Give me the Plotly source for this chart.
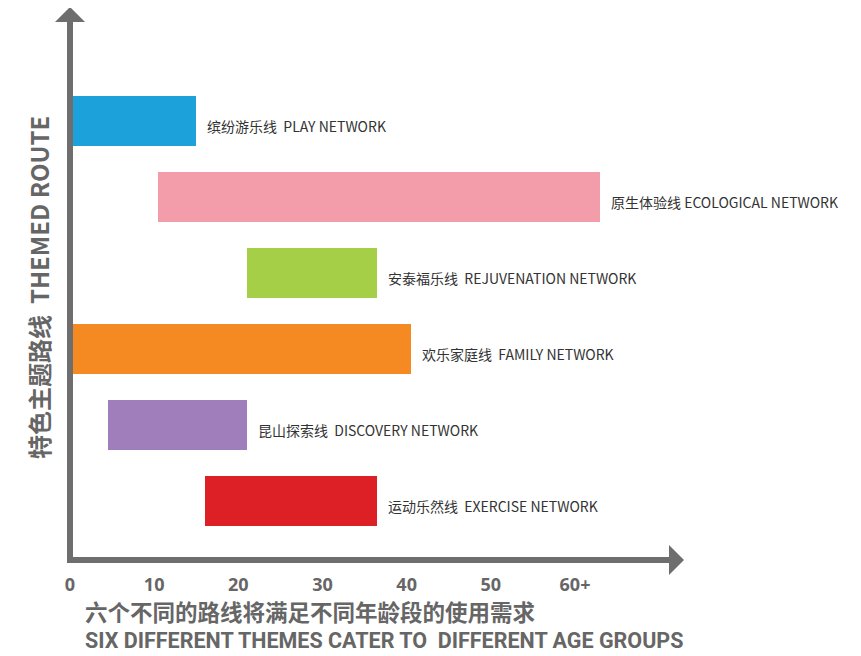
import plotly.graph_objects as go

# ---- data ----
routes_cn = ["缤纷游乐线", "原生体验线", "安泰福乐线", "欢乐家庭线", "昆山探索线", "运动乐然线"]
routes_en = ["PLAY NETWORK", "ECOLOGICAL NETWORK", "REJUVENATION NETWORK",
             "FAMILY NETWORK", "DISCOVERY NETWORK", "EXERCISE NETWORK"]
label_sep = ["  ", " ", "  ", "  ", "  ", "  "]
age_start = [0, 10.5, 21, 0, 4.5, 16]
age_end = [15, 63, 36.5, 40.5, 21, 36.5]
colors = ["#1da1da", "#f39daa", "#a6cf48", "#f68a22", "#a07ebb", "#dd1f26"]
tick_vals = [0, 10, 20, 30, 40, 50, 60]
tick_text = ["0", "10", "20", "30", "40", "50", "60+"]

# ---- layout geometry (page pixels; the page body has an 8px margin) ----
OFF = 8
W, H = 845, 648
PL, PR, PT, PB = 70, 676, 22, 560          # plot area edges in page pixels
ML, MT = PL - OFF, PT - OFF
MR, MB = W - (PR - OFF), H - (PB - OFF)
PW, PH = PR - PL, PB - PT


def px(x):
    return (x - PL) / PW


def py(y):
    return (PB - y) / PH


axis_grey = "#6e6e6e"
text_grey = "#666666"

fig = go.Figure()
lengths = [e - s for s, e in zip(age_start, age_end)]
fig.add_trace(go.Bar(
    y=routes_en, x=lengths, base=age_start, orientation="h",
    marker=dict(color=colors, line=dict(width=0)),
    width=0.66, hoverinfo="skip", showlegend=False,
))

annotations = []
for cn, en, sep, e in zip(routes_cn, routes_en, label_sep, age_end):
    annotations.append(dict(
        x=e, y=en, xref="x", yref="y", text=f"{cn}{sep}{en}",
        showarrow=False, xanchor="left", yanchor="middle", xshift=9, yshift=-5,
        font=dict(family="Noto Sans CJK SC", size=14, color="#333333"),
    ))

annotations += [
    dict(x=px(38), y=py(288), xref="paper", yref="paper",
         text="特色主题路线  THEMED ROUTE", textangle=-90, showarrow=False,
         xanchor="center", yanchor="middle",
         font=dict(family="Noto Sans CJK SC", size=24, color=text_grey, weight="bold")),
    dict(x=px(83), y=py(611), xref="paper", yref="paper",
         text="六个不同的路线将满足不同年龄段的使用需求", showarrow=False,
         xanchor="left", yanchor="middle",
         font=dict(family="Noto Sans CJK SC", size=22.5, color=text_grey, weight="bold")),
    dict(x=px(83), y=py(640), xref="paper", yref="paper",
         text="SIX DIFFERENT THEMES CATER TO  DIFFERENT AGE GROUPS", showarrow=False,
         xanchor="left", yanchor="middle",
         font=dict(family="Roboto, sans-serif", size=21.5,
                   color=text_grey, weight="bold")),
]

shapes = [
    dict(type="line", xref="paper", yref="paper", x0=px(70), x1=px(70), y0=py(563), y1=py(21),
         line=dict(color=axis_grey, width=6)),
    dict(type="line", xref="paper", yref="paper", x0=px(67), x1=px(670), y0=py(560), y1=py(560),
         line=dict(color=axis_grey, width=6)),
    dict(type="path", xref="paper", yref="paper",
         path=f"M {px(55)} {py(22)} L {px(70)} {py(7)} L {px(85)} {py(22)} Z",
         fillcolor=axis_grey, line=dict(width=0)),
    dict(type="path", xref="paper", yref="paper",
         path=f"M {px(669)} {py(545)} L {px(684)} {py(560)} L {px(669)} {py(575)} Z",
         fillcolor=axis_grey, line=dict(width=0)),
]

fig.update_layout(
    width=W, height=H,
    margin=dict(l=ML, r=MR, t=MT, b=MB),
    plot_bgcolor="white", paper_bgcolor="white",
    xaxis=dict(range=[0, 72], tickvals=tick_vals, ticktext=tick_text, showgrid=False,
               zeroline=False, showline=False, ticks="", ticklabelstandoff=12,
               tickfont=dict(family="Open Sans", size=18, color=text_grey, weight="bold")),
    yaxis=dict(categoryorder="array", categoryarray=routes_en[::-1], range=[-0.78, 6.30],
               showticklabels=False, showgrid=False, zeroline=False, showline=False, ticks=""),
    annotations=annotations, shapes=shapes,
    bargap=0,
)

fig.write_html("out.html")
